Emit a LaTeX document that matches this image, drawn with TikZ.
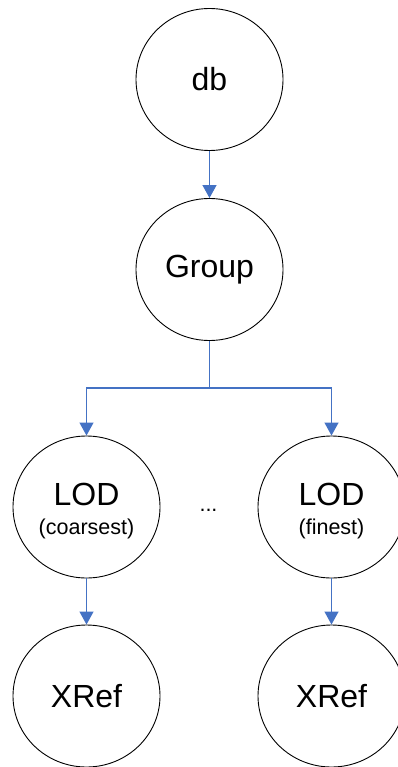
\documentclass[tikz,border=0pt]{standalone}
\usepackage{fontspec}
\setmainfont{Liberation Sans}
\usetikzlibrary{shapes.geometric,arrows.meta}
\definecolor{arrblue}{HTML}{4472C4}
\begin{document}
\begin{tikzpicture}[x=1pt,y=-1pt,
  circ/.style={draw=black, line width=0.9pt, ellipse, minimum width=147pt, minimum height=142pt,
    inner sep=0pt, align=center, font=\fontsize{32}{28}\selectfont},
  subtxt/.style={font=\fontsize{21.5}{28}\selectfont},
  arr/.style={draw=arrblue, line width=1.2pt, -{Triangle[width=14pt,length=13pt]}}]
\useasboundingbox (0,0) rectangle (398,767);
\clip (0,0) rectangle (398,767);
\node[circ] (db) at (209.5,79.5) {db};
\node[circ] (group) at (209.5,269.5) {Group};
\node[circ] (lod1) at (86.5,507) {\rule{0pt}{30pt}LOD\\[1pt]{\fontsize{21.5}{28}\selectfont (coarsest)}};
\node[circ] (lod2) at (331.5,507) {\rule{0pt}{30pt}LOD\\[1pt]{\fontsize{21.5}{28}\selectfont (finest)}};
\node[circ] (x1) at (86.5,696) {XRef};
\node[circ] (x2) at (331.5,696) {XRef};
\node[subtxt, anchor=base] (dots) at (208.5,511) {...};
\coordinate (j) at (209.5,388);
\draw[arr] (db) -- (group);
\draw[arr] (group.south) -- (j) -| (lod1.north);
\draw[arr] (j) -| (lod2.north);
\draw[arr] (lod1) -- (x1);
\draw[arr] (lod2) -- (x2);
\end{tikzpicture}
\end{document}
